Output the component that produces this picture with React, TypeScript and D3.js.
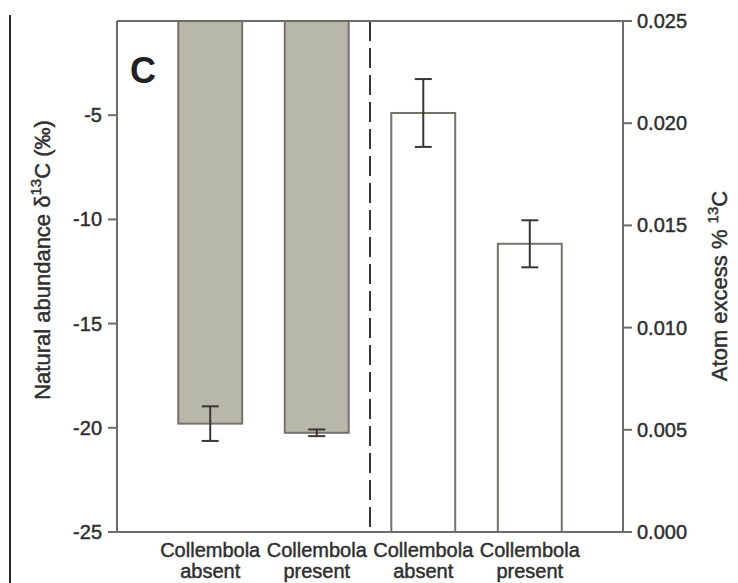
import React from 'react';
import * as d3 from 'd3';

// bars: two on the left axis (natural abundance), two on the right (atom excess)
const categoryIds = ['nat-absent', 'nat-present', 'atom-absent', 'atom-present'];
const labelTop = 'Collembola';
const labelBottom = ['absent', 'present', 'absent', 'present'];

const naturalMeans = [-19.8, -20.24];
const naturalErrors = [0.83, 0.16];
const atomMeans = [0.0205, 0.0141];
const atomErrors = [0.00166, 0.00115];

const leftTicks = [-25, -20, -15, -10, -5];
const rightTicks = [0, 0.005, 0.01, 0.015, 0.02, 0.025];

const W = 738;
const H = 583;
const plot = { left: 117, right: 623, top: 21, bottom: 532 };

const axisColor = '#6f6b68';
const textColor = '#2f2f2f';
const font = '"Liberation Sans", Arial, sans-serif';

export default function App() {
  const x = d3.scaleBand<string>()
    .domain(categoryIds)
    .range([plot.left, plot.right])
    .paddingInner(0.4)
    .paddingOuter(0.575);
  const yLeft = d3.scaleLinear().domain([-25, -0.48]).range([plot.bottom, plot.top]);
  const yRight = d3.scaleLinear().domain([0, 0.025]).range([plot.bottom, plot.top]);
  const bw = x.bandwidth();

  const natBars = naturalMeans.map((v, i) => ({ id: categoryIds[i], v, e: naturalErrors[i] }));
  const atomBars = atomMeans.map((v, i) => ({ id: categoryIds[i + 2], v, e: atomErrors[i] }));

  // dashed divider halfway between the 2nd and 3rd bar
  const dividerX = ((x(categoryIds[1]) as number) + bw + (x(categoryIds[2]) as number)) / 2;
  const capW = 17;

  const errBar = (cx: number, y1: number, y2: number, key: string) => (
    <g key={key} stroke="#3a3634" strokeWidth={2}>
      <line x1={cx} x2={cx} y1={y1} y2={y2} />
      <line x1={cx - capW / 2} x2={cx + capW / 2} y1={y1} y2={y1} />
      <line x1={cx - capW / 2} x2={cx + capW / 2} y1={y2} y2={y2} />
    </g>
  );

  // slight stroke makes the text look as heavy as the scanned original
  const txt = { fill: textColor, stroke: textColor, strokeWidth: 0.45 };

  return (
    <svg width={W} height={H} style={{ position: 'absolute', left: 0, top: 0, background: '#fff' }}
      fontFamily={font}>
      {/* scan edge on the far left */}
      <line x1={10} x2={10} y1={15} y2={H} stroke="#24301f" strokeWidth={2} />

      {/* gray bars hang from the top of the frame */}
      {natBars.map((d) => (
        <rect key={d.id} x={x(d.id)} y={plot.top} width={bw} height={yLeft(d.v) - plot.top}
          fill="#b7b7aa" stroke="#77716c" strokeWidth={2} />
      ))}
      {atomBars.map((d) => (
        <rect key={d.id} x={x(d.id)} y={yRight(d.v)} width={bw} height={plot.bottom - yRight(d.v)}
          fill="#fff" stroke="#77716c" strokeWidth={2} />
      ))}
      {natBars.map((d) => errBar((x(d.id) as number) + bw / 2, yLeft(d.v + d.e), yLeft(d.v - d.e), 'e' + d.id))}
      {atomBars.map((d) => errBar((x(d.id) as number) + bw / 2, yRight(d.v + d.e), yRight(d.v - d.e), 'e' + d.id))}

      <line x1={dividerX} x2={dividerX} y1={plot.top} y2={plot.bottom} stroke="#3a3634"
        strokeWidth={2} strokeDasharray="20 7" />

      {/* frame */}
      <g stroke={axisColor} strokeWidth={2} fill="none">
        <line x1={plot.left} x2={plot.right} y1={plot.top} y2={plot.top} />
        <line x1={plot.left} x2={plot.right} y1={plot.bottom} y2={plot.bottom} />
        <line x1={plot.left} x2={plot.left} y1={plot.top} y2={plot.bottom} />
        <line x1={plot.right} x2={plot.right} y1={plot.top} y2={plot.bottom} />
      </g>

      {/* left axis */}
      {leftTicks.map((t) => (
        <g key={'l' + t} transform={`translate(${plot.left},${yLeft(t)})`}>
          <line x1={-9} x2={0} stroke={axisColor} strokeWidth={2} />
          <text x={-15} dy="0.35em" textAnchor="end" fontSize={20} {...txt}>{t}</text>
        </g>
      ))}

      {/* right axis */}
      {rightTicks.map((t) => (
        <g key={'r' + t} transform={`translate(${plot.right},${yRight(t)})`}>
          <line x1={0} x2={9} stroke={axisColor} strokeWidth={2} />
          <text x={14} dy="0.35em" textAnchor="start" fontSize={20} {...txt}>{d3.format('.3f')(t)}</text>
        </g>
      ))}

      {/* category labels */}
      {categoryIds.map((id, i) => (
        <text key={'c' + id} textAnchor="middle" fontSize={20} {...txt}>
          <tspan x={(x(id) as number) + bw / 2} y={557}>{labelTop}</tspan>
          <tspan x={(x(id) as number) + bw / 2} y={578}>{labelBottom[i]}</tspan>
        </text>
      ))}

      <text x={130} y={83} fontSize={36} fontWeight="bold" fill="#222">C</text>

      <text transform="translate(50,260) rotate(-90)" textAnchor="middle" fontSize={22} {...txt}>
        Natural abundance δ<tspan dy={-9} fontSize={15}>13</tspan><tspan dy={9}>C (‰)</tspan>
      </text>
      <text transform="translate(727,286) rotate(-90)" textAnchor="middle" fontSize={22} {...txt}>
        Atom excess % <tspan dy={-9} fontSize={15}>13</tspan><tspan dy={9}>C</tspan>
      </text>
    </svg>
  );
}
